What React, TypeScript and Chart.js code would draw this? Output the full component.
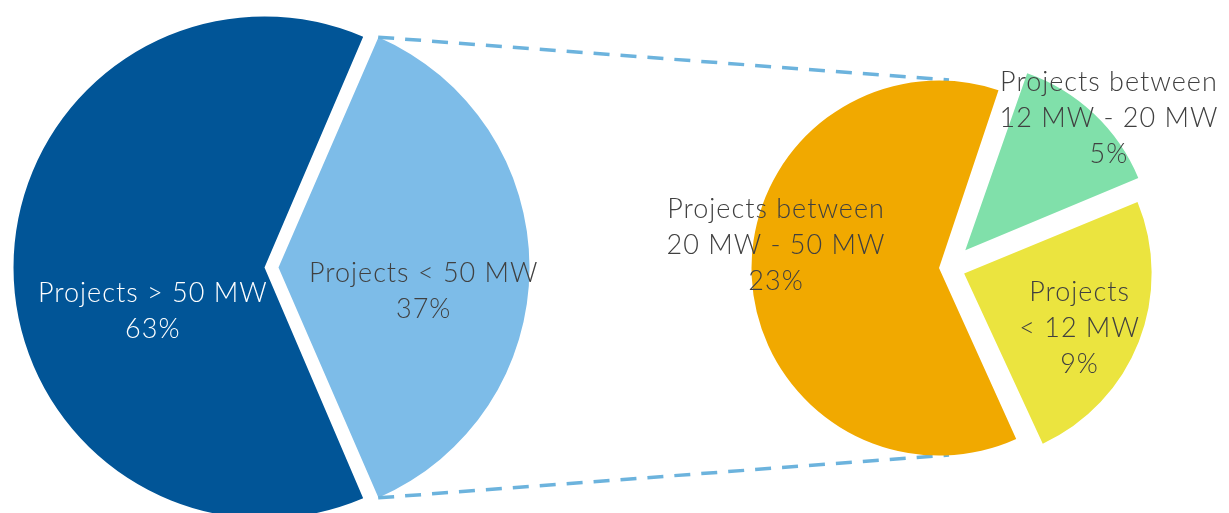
import React, { useEffect, useRef } from 'react';
import { Chart, registerables, ArcElement } from 'chart.js';

Chart.register(...registerables);

// ---- data ----
const leftCategories = [['Projects > 50 MW'], ['Projects < 50 MW']];
const leftValues = [63, 37];
const rightCategories = [
  ['Projects between', '20 MW - 50 MW'],
  ['Projects between', '12 MW - 20 MW'],
  ['Projects', '< 12 MW'],
];
const rightValues = [23, 5, 9];

// ---- styles ----
const WIDTH = 1229;
const HEIGHT = 513;
const leftColors = ['#015597', '#7dbce8'];
const rightColors = ['#f1a900', '#80e0aa', '#ebe43f'];
const leftOffsets = [28, 28];
const rightOffsets = [40, 95, 65];
const leftLabelColors = ['#ffffff', '#404040'];
const rightLabelColors = ['#404040', '#404040', '#404040'];
// [angle delta from slice middle (deg), distance as fraction of radius]
const leftLabelPos = [[-20.2, 0.504], [9, 0.614]];
const rightLabelPos = [[10.2, 0.93], [3.6, 1.168], [3.4, 0.767]];
const FONT = '300 27px Lato, "Noto Sans", sans-serif';
const LETTER_SPACING = '1px';
const LINE_H = 36;
const CONNECTOR_COLOR = '#6cb3dd';

// Keep exploded slices at the same radius (no growth with offset)
const AP: any = ArcElement.prototype as any;
if (!AP.__noGrow) {
  const orig = AP.draw;
  AP.draw = function (ctx: CanvasRenderingContext2D) {
    const off = (this.options.offset || 0) / 4;
    const fix = 1 - Math.sin(Math.min(Math.PI, this.circumference || 0));
    const saved = this.outerRadius;
    this.outerRadius = saved - off * fix;
    orig.call(this, ctx);
    this.outerRadius = saved;
  };
  AP.__noGrow = true;
}

function labelPlugin(texts: string[][], values: number[], colors: string[], pos: number[][]) {
  return {
    id: 'sliceLabels',
    afterDatasetsDraw(chart: any) {
      const ctx = chart.ctx;
      const meta = chart.getDatasetMeta(0);
      ctx.save();
      ctx.font = FONT;
      (ctx as any).letterSpacing = LETTER_SPACING;
      ctx.textAlign = 'center';
      ctx.textBaseline = 'middle';
      meta.data.forEach((arc: any, i: number) => {
        const mid = (arc.startAngle + arc.endAngle) / 2;
        const a = mid + (pos[i][0] * Math.PI) / 180;
        const r = arc.outerRadius * pos[i][1];
        const cx = arc.x + Math.cos(a) * r;
        const cy = arc.y + Math.sin(a) * r;
        const lines = [...texts[i], `${values[i]}%`];
        const y0 = cy - ((lines.length - 1) * LINE_H) / 2;
        ctx.fillStyle = colors[i];
        lines.forEach((t, k) => ctx.fillText(t, cx, y0 + k * LINE_H));
      });
      ctx.restore();
    },
  };
}

function connectorPlugin(getLeft: () => any) {
  return {
    id: 'connectors',
    beforeDatasetsDraw(chart: any) {
      const left = getLeft();
      if (!left) return;
      const la = left.getDatasetMeta(0).data[1];
      const ra = chart.getDatasetMeta(0).data[0];
      const t = (la.options.offset || 0) / 4;
      const half = (la.startAngle + la.endAngle) / 2;
      const ox = la.x + Math.cos(half) * t;
      const oy = la.y + Math.sin(half) * t;
      const p1 = [ox + Math.cos(la.startAngle) * la.outerRadius, oy + Math.sin(la.startAngle) * la.outerRadius];
      const p2 = [ox + Math.cos(la.endAngle) * la.outerRadius, oy + Math.sin(la.endAngle) * la.outerRadius];
      const q1 = [ra.x, ra.y - ra.outerRadius];
      const q2 = [ra.x, ra.y + ra.outerRadius];
      const ctx = chart.ctx;
      ctx.save();
      ctx.strokeStyle = CONNECTOR_COLOR;
      ctx.lineWidth = 3.5;
      ctx.setLineDash([16, 11]);
      ctx.beginPath();
      ctx.moveTo(p1[0], p1[1]);
      ctx.lineTo(q1[0], q1[1]);
      ctx.moveTo(p2[0], p2[1]);
      ctx.lineTo(q2[0], q2[1]);
      ctx.stroke();
      ctx.restore();
    },
  };
}

export default function App() {
  const leftRef = useRef<HTMLCanvasElement>(null);
  const rightRef = useRef<HTMLCanvasElement>(null);

  useEffect(() => {
    document.body.style.margin = '0';
    const common = {
      responsive: false,
      animation: false as const,
      devicePixelRatio: 1,
      plugins: { legend: { display: false }, tooltip: { enabled: false } },
    };
    const left = new Chart(leftRef.current!, {
      type: 'pie',
      data: {
        labels: leftCategories.map((c) => c.join(' ')),
        datasets: [
          {
            data: leftValues,
            backgroundColor: leftColors,
            borderWidth: 0,
            offset: leftOffsets,
            clip: false,
          } as any,
        ],
      },
      options: {
        ...common,
        rotation: 156.6,
        radius: 251,
        layout: { padding: { left: 0, right: 686, top: 22, bottom: 0 } },
      } as any,
      plugins: [labelPlugin(leftCategories, leftValues, leftLabelColors, leftLabelPos)],
    });
    const right = new Chart(rightRef.current!, {
      type: 'pie',
      data: {
        labels: rightCategories.map((c) => c.join(' ')),
        datasets: [
          {
            data: rightValues,
            backgroundColor: rightColors,
            borderWidth: 0,
            offset: rightOffsets,
            clip: false,
          } as any,
        ],
      },
      options: {
        ...common,
        rotation: 19 + 136.2,
        radius: 187.5,
        layout: { padding: { left: 669, right: 0, top: 22, bottom: 0 } },
      } as any,
      plugins: [
        connectorPlugin(() => left),
        labelPlugin(rightCategories, rightValues, rightLabelColors, rightLabelPos),
      ],
    });
    return () => {
      right.destroy();
      left.destroy();
    };
  }, []);

  const canvasStyle: React.CSSProperties = {
    position: 'absolute',
    left: 0,
    top: 0,
    width: WIDTH,
    height: HEIGHT,
  };

  return (
    <div style={{ position: 'absolute', left: 0, top: 0, width: WIDTH, height: HEIGHT, overflow: 'hidden', background: '#fff' }}>
      <canvas ref={leftRef} width={WIDTH} height={HEIGHT} style={canvasStyle} />
      <canvas ref={rightRef} width={WIDTH} height={HEIGHT} style={canvasStyle} />
    </div>
  );
}
